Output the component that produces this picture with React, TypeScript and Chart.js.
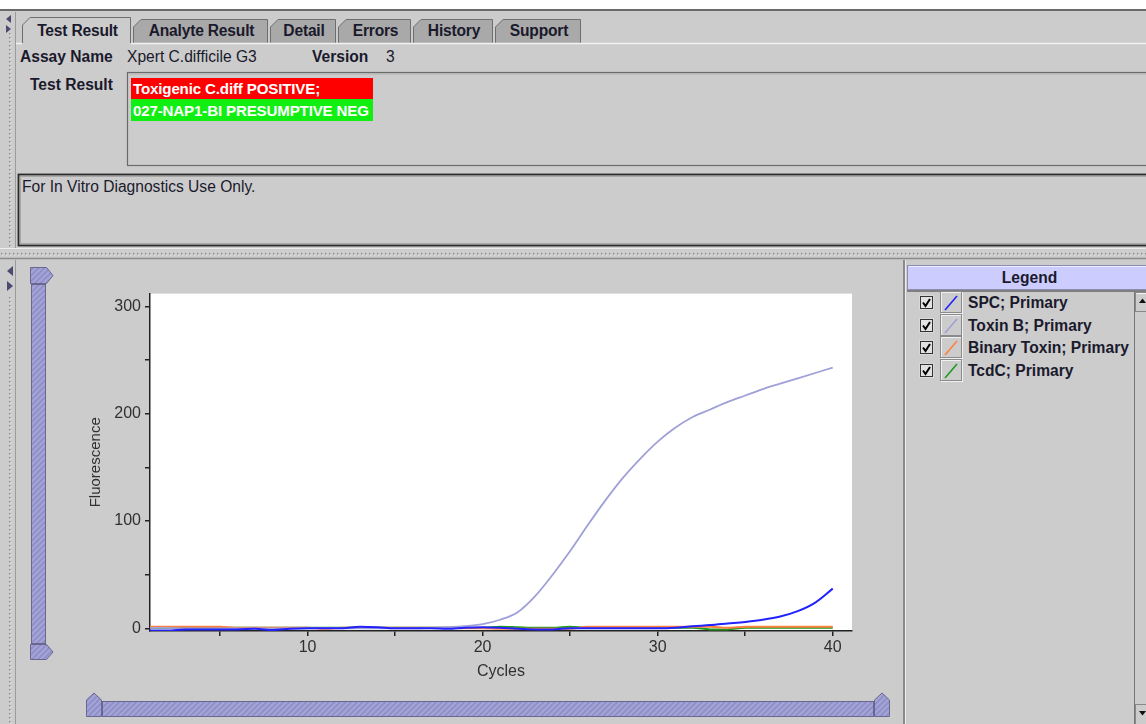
import React, { useEffect, useRef } from "react";
import { Chart, registerables } from "chart.js";

Chart.register(...registerables);

// ---------- data ----------
const cycles = [1, 2, 3, 4, 5, 6, 7, 8, 9, 10, 11, 12, 13, 14, 15, 16, 17, 18, 19, 20, 21, 22, 23, 24, 25, 26, 27, 28, 29, 30, 31, 32, 33, 34, 35, 36, 37, 38, 39, 40];
const spc = [-2, -2, -1, -1, -1, -1, -0.5, -1.5, -0.5, 0, 0, 0, 1.5, 1, 0, 0, 0, -0.5, 0.5, 1, 0.5, -0.5, -1, -1, 0, 0, 0, 0, 0, 0, 0.5, 2, 3, 4.5, 6, 8, 11, 16, 24, 37];
const toxinB = [0.5, 0.5, 0, 0, 0, 0, 0, 0, 0, 0, 0.5, 0, 0, 0, 0, 0, 0.5, 1, 2, 4, 8, 15, 30, 50, 72, 96, 119, 140, 158, 174, 187, 197, 204, 211, 217, 223, 228, 233, 238, 243];
const binaryToxin = [1.5, 1.5, 1.5, 1.5, 1.5, 0.5, 0.5, 0.5, 0.5, 0.5, -0.5, 0.5, 0.5, 0.5, 0.5, 0.5, 0.5, 0.5, 0, 0, -0.5, -0.5, -0.5, -0.5, -0.5, 1.5, 1.5, 1.5, 1.5, 1.5, 1.5, 1.5, 1.5, 0.5, 1.5, 1.5, 1.5, 1.5, 1.5, 1.5];
const tcdC = [0.5, 0.5, 0.5, 0.5, 0.5, 0.5, 0.5, 0.5, 0.5, 0.5, 0.5, 0.5, 1, 0.5, 0.5, 0.5, 0.5, 0.5, 0.5, 0.5, 1.5, 1, 0.5, 0.5, 1.5, 0.5, 0.5, 0.5, 0.5, 0.5, 0.5, 0.5, -1, -1, 0.5, 0.5, 0.5, 0.5, 0.5, 0.5];
const seriesNames = ["SPC; Primary", "Toxin B; Primary", "Binary Toxin; Primary", "TcdC; Primary"];
const seriesColors = ["#2222ff", "#a0a0d8", "#ff8040", "#1f9a1f"];
const yTicks = [0, 50, 100, 150, 200, 250, 300];
const xTicks = [5, 10, 15, 20, 25, 30, 35, 40];
const tabNames = ["Test Result", "Analyte Result", "Detail", "Errors", "History", "Support"];
const assayName = "Xpert C.difficile G3";
const versionText = "3";
const resultLines = ["Toxigenic C.diff POSITIVE;", "027-NAP1-BI PRESUMPTIVE NEG"];
const disclaimer = "For In Vitro Diagnostics Use Only.";

// ---------- layout ----------
const FONT = '"Liberation Sans", Arial, Helvetica, sans-serif';
const BG = "#cccccc";
const TXT = "#1a1a2c";
const tabX = [[22, 131], [133, 268], [270, 336], [338, 411], [413, 493], [495, 581]];
const legendRowY = [303, 326, 348, 371];

function T(props: { x: number; y: number; bold?: boolean; color?: string; size?: number; children: any; w?: number; center?: boolean; ls?: number }) {
  const { x, y, bold, color, size, children, w, center, ls } = props;
  return (
    <div
      style={{
        position: "absolute",
        left: x,
        top: y - 10,
        height: 20,
        lineHeight: "20px",
        width: w,
        textAlign: center ? "center" : "left",
        whiteSpace: "nowrap",
        fontFamily: FONT,
        fontSize: size || 15.6,
        letterSpacing: ls || 0,
        fontWeight: bold ? "bold" : "normal",
        color: color || TXT,
      }}
    >
      {children}
    </div>
  );
}

function ChartView() {
  const ref = useRef<HTMLCanvasElement | null>(null);
  useEffect(() => {
    if (!ref.current) return;
    const data = [spc, toxinB, binaryToxin, tcdC];
    const whiteBg = {
      id: "whiteBg",
      beforeDraw(chart: any) {
        const { ctx, chartArea } = chart;
        ctx.save();
        ctx.fillStyle = "#ffffff";
        ctx.fillRect(chartArea.left, chartArea.top, chartArea.right - chartArea.left, chartArea.bottom - chartArea.top);
        ctx.restore();
      },
    };
    const chart = new Chart(ref.current, {
      type: "line",
      data: {
        labels: cycles,
        datasets: seriesNames.map((n, i) => ({
          label: n,
          data: cycles.map((c, j) => ({ x: c, y: data[i][j] })),
          borderColor: seriesColors[i],
          backgroundColor: seriesColors[i],
          borderWidth: i === 1 ? 1.8 : 2,
          pointRadius: 0,
          cubicInterpolationMode: "monotone",
          fill: false,
        })),
      },
      options: {
        animation: false,
        responsive: false,
        maintainAspectRatio: false,
        layout: { padding: { top: 11, right: 11, left: 0, bottom: 0 } },
        plugins: { legend: { display: false }, tooltip: { enabled: false } },
        scales: {
          x: {
            type: "linear",
            min: 1,
            max: 41.1,
            afterBuildTicks: (s: any) => {
              s.ticks = xTicks.map((v) => ({ value: v }));
            },
            afterFit: (s: any) => {
              s.height = 59;
            },
            ticks: {
              callback: (v: any) => (v % 10 === 0 ? String(v) : ""),
              font: { family: FONT, size: 16 },
              color: "#303030",
              padding: 2,
              maxRotation: 0,
              autoSkip: false,
            },
            grid: { drawOnChartArea: false, color: "#222", lineWidth: 1.5, tickLength: 5 },
            border: { display: true, color: "#222", width: 1.5 },
            title: { display: true, text: "Cycles", font: { family: FONT, size: 16 }, color: "#303030", padding: { top: 4, bottom: 9 } },
          },
          y: {
            type: "linear",
            min: -2.5,
            max: 312,
            afterBuildTicks: (s: any) => {
              s.ticks = yTicks.map((v) => ({ value: v }));
            },
            afterFit: (s: any) => {
              s.width = 67;
            },
            ticks: {
              callback: (v: any) => (v % 100 === 0 ? String(v) : ""),
              font: { family: FONT, size: 16 },
              color: "#303030",
              padding: 4,
              autoSkip: false,
            },
            grid: { drawOnChartArea: false, color: "#222", lineWidth: 1.5, tickLength: 5 },
            border: { display: true, color: "#222", width: 1.5 },
            title: { display: true, text: "Fluorescence", font: { family: FONT, size: 15 }, color: "#303030", padding: { top: 4, bottom: 4 } },
          },
        },
      } as any,
      plugins: [whiteBg],
    });
    return () => chart.destroy();
  }, []);
  return <canvas ref={ref} width={780} height={410} style={{ position: "absolute", left: 83, top: 280, width: 780, height: 410 }} />;
}

function Chrome() {
  const tabs = tabX.map(([a, b], i) => {
    const sel = i === 0;
    const top = sel ? 17 : 19;
    const d = `M${a + 0.5},43 L${a + 0.5},${top + 8} L${a + 8},${top + 0.5} L${b - 0.5},${top + 0.5} L${b - 0.5},43`;
    return <path key={i} d={d} fill={sel ? BG : "#a9a9a9"} stroke="#6e6e6e" strokeWidth={1} />;
  });
  const hatch = "url(#hatch)";
  const knobStroke = "#67678f";
  return (
    <svg width={1146} height={724} style={{ position: "absolute", left: 0, top: 0 }}>
      <defs>
        <pattern id="dots" width="4" height="4" patternUnits="userSpaceOnUse">
          <rect x="1" y="1" width="1.4" height="1.4" fill="#8a8a8a" />
          <rect x="2.4" y="2.4" width="1" height="1" fill="#f0f0f0" />
        </pattern>
        <pattern id="hatch" width="4" height="4" patternUnits="userSpaceOnUse" patternTransform="rotate(45)">
          <rect width="4" height="4" fill="#a4a4d8" />
          <rect width="1.6" height="4" fill="#8c8cc4" />
        </pattern>
      </defs>
      <rect x={0} y={0} width={1146} height={9} fill="#ffffff" />
      <rect x={0} y={9} width={1146} height={2} fill="#6a6a6a" />
      {tabs}
      <line x1={131} y1={43.5} x2={1146} y2={43.5} stroke="#f2f2f2" strokeWidth={1.5} />
      <line x1={16} y1={43.5} x2={22} y2={43.5} stroke="#f2f2f2" strokeWidth={1.5} />
      <rect x={8} y={33} width={5} height={214} fill="url(#dots)" />
      <polygon points="11,15 6,19 11,23" fill="#4a4a70" />
      <polygon points="6,25 11,29 6,33" fill="#4a4a70" />
      <line x1={15.5} y1={12} x2={15.5} y2={248} stroke="#9a9a9a" />
      <rect x={127.5} y={72.5} width={1030} height={93} fill={BG} stroke="#6a6a6a" strokeWidth={1.2} />
      <line x1={129} y1={74} x2={1146} y2={74} stroke="#b0b0b0" />
      <rect x={18.5} y={174.5} width={1140} height={71} fill={BG} stroke="#2a2a2a" strokeWidth={1.8} />
      <rect x={20.5} y={176.5} width={1136} height={67} fill="none" stroke="#a8a8a8" strokeWidth={1} />
      <line x1={0} y1={248.5} x2={1146} y2={248.5} stroke="#eeeeee" />
      <rect x={0} y={251} width={1146} height={5} fill="url(#dots)" />
      <line x1={0} y1={258.5} x2={1146} y2={258.5} stroke="#8a8a8a" strokeWidth={1.5} />
      <polygon points="13,266 7,271 13,276" fill="#4a4a70" />
      <polygon points="7,281 13,286 7,291" fill="#4a4a70" />
      <rect x={8} y={295} width={5} height={429} fill="url(#dots)" />
      <line x1={15.5} y1={260} x2={15.5} y2={724} stroke="#9a9a9a" />
      <rect x={31.5} y={284.5} width={14} height={359} fill={hatch} stroke={knobStroke} />
      <polygon points="30.5,267.5 46.5,267.5 53,275.5 46.5,283.5 30.5,283.5" fill={hatch} stroke={knobStroke} />
      <polygon points="30.5,644.5 46.5,644.5 53,652 46.5,659.5 30.5,659.5" fill={hatch} stroke={knobStroke} />
      <rect x={102.5} y={701.5} width={771} height={15} fill={hatch} stroke={knobStroke} />
      <polygon points="86.5,716.5 86.5,700 94,693 101.5,700 101.5,716.5" fill={hatch} stroke={knobStroke} />
      <polygon points="874.5,716.5 874.5,700 882,693 889.5,700 889.5,716.5" fill={hatch} stroke={knobStroke} />
      <rect x={903} y={260} width={2} height={464} fill="#8a8a8a" />
      <line x1={905.5} y1={260} x2={905.5} y2={724} stroke="#ececec" />
      <rect x={907.5} y={265.5} width={245} height={24} fill="#ccccff" stroke="#8c8cb0" />
      <line x1={908.5} y1={266.5} x2={1146} y2={266.5} stroke="#ececff" />
      <line x1={907} y1={291} x2={1146} y2={291} stroke="#666666" strokeWidth={1.5} />
      <line x1={1134.5} y1={292} x2={1134.5} y2={724} stroke="#777777" />
      <rect x={1135.5} y={292.5} width={12} height={19} fill={BG} stroke="#888888" />
      <line x1={1136.5} y1={293.5} x2={1146} y2={293.5} stroke="#f4f4f4" />
      <polygon points="1139,303 1142.5,298.5 1146,303" fill="#111" />
      <rect x={1135.5} y={704.5} width={12} height={21} fill={BG} stroke="#888888" />
      <polygon points="1139,711 1146,711 1142.5,715.5" fill="#111" />
      {legendRowY.map((cy, i) => (
        <g key={i}>
          <rect x={919.5} y={cy - 7.5} width={14} height={14} fill="#f2f2f2" stroke="#d8d8d8" />
          <rect x={920.5} y={cy - 6.5} width={12} height={12} fill="#e2e2e2" stroke="#333" />
          <path d={`M${923},${cy - 0.5} L${925.5},${cy + 3} L${930},${cy - 4}`} stroke="#000" strokeWidth={2} fill="none" />
          <rect x={941.5} y={cy - 10.5} width={21} height={21} fill={BG} stroke="#f0f0f0" />
          <rect x={940.5} y={cy - 11.5} width={21} height={21} fill="none" stroke="#8a8a8a" />
          <line x1={945} y1={cy + 7} x2={957} y2={cy - 7} stroke={seriesColors[i]} strokeWidth={1.6} />
        </g>
      ))}
    </svg>
  );
}

export default function App() {
  useEffect(() => {
    document.body.style.margin = "0";
  }, []);
  return (
    <div style={{ position: "fixed", left: 0, top: 0, width: 1146, height: 724, background: BG, overflow: "hidden", fontFamily: FONT }}>
      <Chrome />
      <ChartView />
      {tabNames.map((n, i) => (
        <T key={n} x={tabX[i][0] + 2} y={31} w={tabX[i][1] - tabX[i][0] - 2} center bold ls={-0.2}>
          {n}
        </T>
      ))}
      <T x={20} y={57} bold>Assay Name</T>
      <T x={127} y={57}>{assayName}</T>
      <T x={312} y={57} bold>Version</T>
      <T x={386} y={57}>{versionText}</T>
      <T x={30} y={85} bold>Test Result</T>
      <div style={{ position: "absolute", left: 131, top: 78, width: 242, height: 21, background: "#ff0000" }} />
      <div style={{ position: "absolute", left: 131, top: 99, width: 242, height: 22, background: "#11ee11" }} />
      <T x={133} y={88.5} bold color="#ffffff" size={15.1} ls={-0.15}>{resultLines[0]}</T>
      <T x={133} y={110.5} bold color="#ffffff" size={15.1} ls={-0.15}>{resultLines[1]}</T>
      <T x={22} y={187}>{disclaimer}</T>
      <T x={907} y={278} w={245} center bold>Legend</T>
      {seriesNames.map((n, i) => (
        <T key={n} x={968} y={legendRowY[i]} bold>
          {n}
        </T>
      ))}
    </div>
  );
}
